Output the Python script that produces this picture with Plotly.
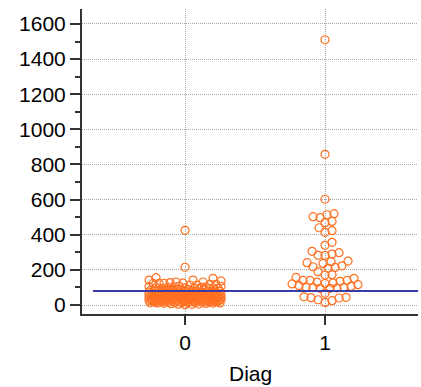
import plotly.graph_objects as go

# ---------------- data ----------------
categories = [0, 1]

diag0_values = [
    425, 215, 156, 152, 142, 142, 137, 131, 131, 128, 126, 123, 123, 123,
    118, 118, 114, 114, 108, 107,
    2, 4, 5, 6, 8, 9, 10, 11, 12, 12, 13, 14, 15, 15, 16, 17, 18, 18, 19,
    20, 20, 21, 22, 22, 23, 24, 24, 25, 25, 26, 27, 27, 28, 28, 29, 30, 30,
    31, 31, 32, 32, 33, 33, 34, 35, 35, 36, 36, 37, 38, 38, 39, 40, 40, 41,
    41, 42, 43, 43, 44, 45, 45, 46, 47, 47, 48, 49, 50, 50, 51, 52, 52, 53,
    54, 55, 55, 56, 57, 58, 58, 59, 60, 61, 62, 62, 63, 64, 65, 66, 67, 68,
    69, 70, 70, 71, 72, 73, 74, 75, 76, 77, 78, 79, 80, 81, 82, 83, 84, 85,
    86, 87, 88, 89, 90, 91, 92, 93, 94, 95, 96, 97, 98, 99, 100, 101, 103,
    104, 105,
    14, 18, 22, 26, 29, 33, 37, 41, 44, 48, 52, 56, 59, 63, 67, 71, 74, 78,
    16, 21, 27, 34, 39, 46, 53, 61, 68, 75,
]

diag1_values = [
    1510, 858, 602, 520, 514, 503, 497, 476, 469, 440, 423, 414, 357, 340,
    306, 298, 290, 283, 283, 250, 247, 241, 237, 223, 218, 214, 209, 190,
    173, 171, 157, 152, 140, 140, 140, 135, 130, 126, 123, 120, 116, 110,
    106, 103, 100, 100, 97, 95, 95, 67, 47, 44, 42, 40, 30, 25, 15,
]

reference_value = 80

y_tick_values = [0, 200, 400, 600, 800, 1000, 1200, 1400, 1600]
x_tick_labels = ["0", "1"]

# ---------------- layout geometry ----------------
W, H = 421, 387
M_L, M_R, M_T, M_B = 82, 3, 9, 73
X_RANGE = [-0.736, 1.664]
Y_RANGE = [-51, 1685]
plot_w = W - M_L - M_R
plot_h = H - M_T - M_B
px_per_x = plot_w / (X_RANGE[1] - X_RANGE[0])
px_per_y = plot_h / (Y_RANGE[1] - Y_RANGE[0])


def swarm_offsets(vals, diam=7.0, max_px=36):
    """Simple beeswarm: place points by ascending value, nearest free slot."""
    n = len(vals)
    order = sorted(range(n), key=lambda i: vals[i])
    placed = []
    offs = [0.0] * n
    cands = [0]
    for k in range(1, max_px + 1):
        cands += [k, -k]
    for i in order:
        y = vals[i] * px_per_y
        near = [(px, py) for px, py in placed if abs(py - y) < diam]
        best = None
        for c in cands:
            if all((c - px) ** 2 + (y - py) ** 2 >= diam ** 2 for px, py in near):
                best = c
                break
        if best is None:
            bestd = -1
            for c in cands:
                md = min(((c - px) ** 2 + (y - py) ** 2) for px, py in near)
                if md > bestd:
                    bestd, best = md, c
        placed.append((best, y))
        offs[i] = best / px_per_x
    return offs


orange = "#ff7020"
fig = go.Figure()
for cat, vals in zip(categories, [diag0_values, diag1_values]):
    offs = swarm_offsets(vals)
    fig.add_trace(go.Scatter(
        x=[cat + o for o in offs], y=vals, mode="markers",
        marker=dict(symbol="circle-open", size=8, color=orange,
                    line=dict(width=1.2, color=orange)),
        showlegend=False, hoverinfo="y",
    ))

fig.add_shape(type="line", xref="paper", yref="y",
              x0=(93 - M_L) / plot_w, x1=1, y0=reference_value, y1=reference_value,
              line=dict(color="#3b3ba8", width=2), layer="above")

font_main = "Liberation Sans, Arial, sans-serif"
axis_common = dict(showline=True, linecolor="#333333", linewidth=2,
                   ticks="outside", tickcolor="#333333", tickwidth=2,
                   showgrid=True, gridcolor="#a8a8a8", griddash="1px,1px",
                   gridwidth=1, zeroline=False,
                   tickfont=dict(family=font_main, size=21, color="black"))

fig.update_layout(
    width=W, height=H,
    margin=dict(l=M_L, r=M_R, t=M_T, b=M_B, autoexpand=False),
    paper_bgcolor="white", plot_bgcolor="white",
    xaxis=dict(range=X_RANGE, tickvals=categories, ticktext=x_tick_labels,
               ticklen=9, **axis_common),
    yaxis=dict(range=Y_RANGE, tickvals=y_tick_values,
               ticktext=[str(v) for v in y_tick_values], ticklen=10,
               minor=dict(dtick=100, tick0=0, ticklen=5, ticks="outside",
                          tickcolor="#333333", tickwidth=2, showgrid=False),
               **axis_common),
    annotations=[dict(text="Diag", xref="paper", yref="paper",
                      x=0.5, y=-(373 - (H - M_B)) / plot_h,
                      xanchor="center", yanchor="middle", showarrow=False,
                      font=dict(family=font_main, size=21, color="black"))],
)

fig.write_html("out.html", config={"displayModeBar": False},
               post_script="document.body.style.margin='0';document.body.style.overflow='hidden';")
